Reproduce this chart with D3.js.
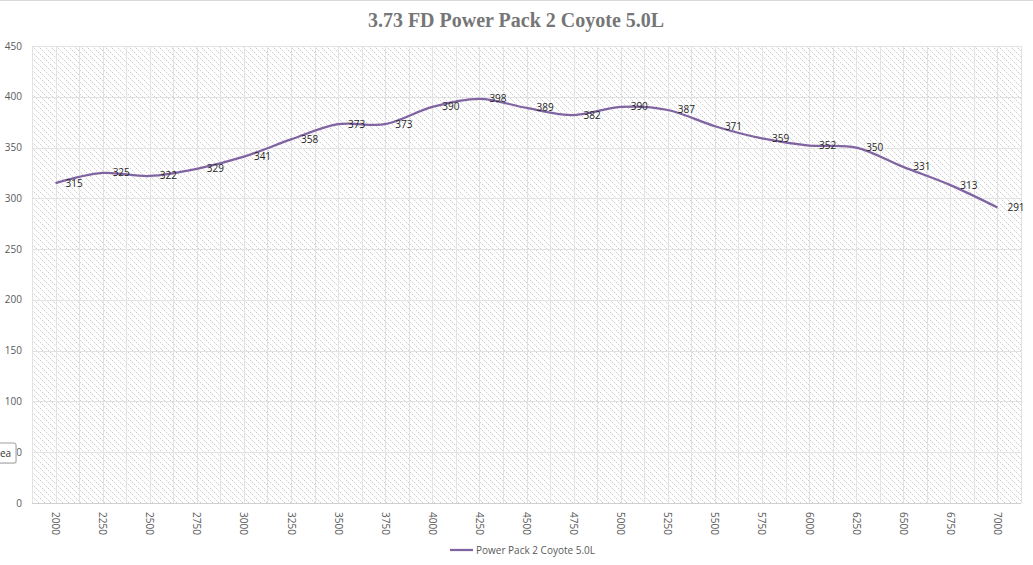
<!DOCTYPE html>
<html>
<head>
<meta charset="utf-8">
<script src="https://cdn.jsdelivr.net/npm/d3@7"></script>
<style>
  body { margin: 0; background: #fff; }
  svg { display: block; }
</style>
</head>
<body>
<div id="chart"></div>
<script>
var rpm = [2000, 2250, 2500, 2750, 3000, 3250, 3500, 3750, 4000, 4250, 4500,
           4750, 5000, 5250, 5500, 5750, 6000, 6250, 6500, 6750, 7000];
var power = [315, 325, 322, 329, 341, 358, 373, 373, 390, 398, 389,
             382, 390, 387, 371, 359, 352, 350, 331, 313, 291];
var yTicks = [0, 50, 100, 150, 200, 250, 300, 350, 400, 450];
var title = '3.73 FD Power Pack 2 Coyote 5.0L';
var seriesName = 'Power Pack 2 Coyote 5.0L';

var width = 1033, height = 565;
var margin = {top: 46, right: 12, bottom: 62, left: 32};
var w = width - margin.left - margin.right;
var h = height - margin.top - margin.bottom;
var lineColor = '#8064a2';
var textColor = '#595959';

var svg = d3.select('#chart').append('svg')
            .attr('width', width)
            .attr('height', height);

// dotted diagonal hatch for the plot area
var defs = svg.append('defs');
var pat = defs.append('pattern')
              .attr('id', 'hatch')
              .attr('patternUnits', 'userSpaceOnUse')
              .attr('width', 6)
              .attr('height', 6);
pat.append('rect').attr('width', 6).attr('height', 6).attr('fill', '#fff');
pat.selectAll('rect.dot').data(d3.range(6)).enter()
   .append('rect')
   .attr('class', 'dot')
   .attr('x', function(d) { return d; })
   .attr('y', function(d) { return d; })
   .attr('width', 1).attr('height', 1)
   .attr('shape-rendering', 'crispEdges')
   .attr('fill', function(d) { return d % 2 ? '#ececec' : '#cfcfcf'; });

// outer frame top line
svg.append('line')
   .attr('x1', 0).attr('x2', width).attr('y1', 0.5).attr('y2', 0.5)
   .attr('stroke', '#d9d9d9');

var x = d3.scaleBand().domain(rpm).range([0, w]);
var y = d3.scaleLinear().domain([0, 450]).range([h, 0]);
var cx = function(d) { return x(d) + x.bandwidth() / 2; };

var g = svg.append('g')
           .attr('transform', 'translate(' + margin.left + ',' + margin.top + ')');

g.append('rect')
 .attr('width', w).attr('height', h)
 .attr('fill', 'url(#hatch)');

// vertical gridlines at every half category
var halfSteps = d3.range(0, rpm.length * 2 + 1);
g.append('g').selectAll('line').data(halfSteps).enter()
 .append('line')
 .attr('x1', function(d) { return Math.round(d * x.bandwidth() / 2) + 0.5; })
 .attr('x2', function(d) { return Math.round(d * x.bandwidth() / 2) + 0.5; })
 .attr('y1', 0).attr('y2', h)
 .attr('stroke', '#e2e2e2');

// horizontal gridlines
g.append('g').selectAll('line').data(yTicks).enter()
 .append('line')
 .attr('x1', 0).attr('x2', w)
 .attr('y1', function(d) { return Math.round(y(d)) + 0.5; })
 .attr('y2', function(d) { return Math.round(y(d)) + 0.5; })
 .attr('stroke', function(d) { return d === 0 ? '#d0d0d0' : '#e2e2e2'; });

// y axis labels
g.append('g').selectAll('text').data(yTicks).enter()
 .append('text')
 .attr('x', -10)
 .attr('y', function(d) { return y(d); })
 .attr('dy', '0.35em')
 .attr('text-anchor', 'end')
 .attr('font-family', 'Open Sans, sans-serif')
 .attr('font-size', 10)
 .attr('fill', textColor)
 .text(function(d) { return d; });

// x axis labels, rotated
g.append('g').selectAll('text').data(rpm).enter()
 .append('text')
 .attr('transform', function(d) {
   return 'translate(' + cx(d) + ',' + (h + 9) + ') rotate(90)';
 })
 .attr('dy', '0.35em')
 .attr('text-anchor', 'start')
 .attr('font-family', 'Open Sans, sans-serif')
 .attr('font-size', 10)
 .attr('fill', textColor)
 .text(function(d) { return d; });

// smoothed line
var lineFunc = d3.line()
                 .x(function(d, i) { return cx(rpm[i]); })
                 .y(function(d) { return y(d); })
                 .curve(d3.curveCatmullRom.alpha(0));

g.append('path')
 .attr('d', lineFunc(power))
 .attr('fill', 'none')
 .attr('stroke', lineColor)
 .attr('stroke-width', 2.25);

// data labels to the right of each point
g.append('g').selectAll('text').data(power).enter()
 .append('text')
 .attr('x', function(d, i) { return cx(rpm[i]) + 10; })
 .attr('y', function(d) { return y(d); })
 .attr('dy', '0.35em')
 .attr('font-family', 'Open Sans, sans-serif')
 .attr('font-size', 10)
 .attr('fill', '#262626')
 .text(function(d) { return d; });

// title
svg.append('text')
   .attr('x', 516)
   .attr('y', 27)
   .attr('text-anchor', 'middle')
   .attr('font-family', 'Liberation Serif, serif')
   .attr('font-weight', 'bold')
   .attr('font-size', 20)
   .attr('fill', '#767676')
   .text(title);

// legend
var legend = svg.append('g').attr('transform', 'translate(450,550)');
legend.append('line')
      .attr('x1', 0).attr('x2', 23).attr('y1', 0).attr('y2', 0)
      .attr('stroke', lineColor).attr('stroke-width', 2.25);
legend.append('text')
      .attr('x', 26).attr('y', 0).attr('dy', '0.35em')
      .attr('font-family', 'Open Sans, sans-serif')
      .attr('font-size', 10)
      .attr('fill', textColor)
      .text(seriesName);

// tooltip remnant at left edge
var tip = svg.append('g').attr('transform', 'translate(-6,443)');
tip.append('rect')
   .attr('x', 1).attr('y', 1).attr('width', 22).attr('height', 20).attr('rx', 2)
   .attr('fill', '#e8e8e8');
tip.append('rect')
   .attr('width', 22).attr('height', 20).attr('rx', 2)
   .attr('fill', '#fff').attr('stroke', '#a0a0a0');
tip.append('text')
   .attr('x', 6).attr('y', 10).attr('dy', '0.35em')
   .attr('font-family', 'Open Sans, sans-serif')
   .attr('font-size', 10)
   .attr('fill', '#333')
   .text('ea');
</script>
</body>
</html>
